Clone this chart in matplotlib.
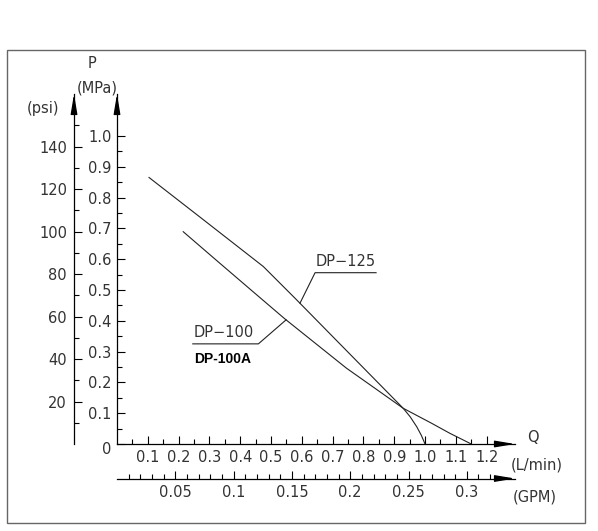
import matplotlib
matplotlib.use("Agg")
import matplotlib.pyplot as plt
from matplotlib.patches import Rectangle
from matplotlib.ticker import FixedLocator, FuncFormatter

plt.rcParams['font.family'] = ['Liberation Sans Narrow', 'DejaVu Sans']

# curve data (Q in L/min, P in MPa)
q_dp125 = [0.104, 0.27, 0.475, 0.583, 0.75, 0.929, 0.952, 0.973, 0.988, 1.0]
p_dp125 = [0.865, 0.736, 0.576, 0.468, 0.298, 0.116, 0.088, 0.056, 0.028, 0.0]
q_dp100 = [0.215, 0.33, 0.442, 0.545, 0.65, 0.745, 0.84, 0.929, 1.02, 1.08, 1.15]
p_dp100 = [0.689, 0.590, 0.494, 0.406, 0.322, 0.246, 0.179, 0.116, 0.068, 0.035, 0.0]

q_major = [0.1, 0.2, 0.3, 0.4, 0.5, 0.6, 0.7, 0.8, 0.9, 1.0, 1.1, 1.2]
q_minor = [0.05, 0.15, 0.25, 0.35, 0.45, 0.55, 0.65, 0.75, 0.85, 0.95, 1.05, 1.15]
mpa_major = [0.0, 0.1, 0.2, 0.3, 0.4, 0.5, 0.6, 0.7, 0.8, 0.9, 1.0]
mpa_minor = [0.05, 0.15, 0.25, 0.35, 0.45, 0.55, 0.65, 0.75, 0.85, 0.95]
psi_major = [20, 40, 60, 80, 100, 120, 140]
psi_minor = [10, 30, 50, 70, 90, 110, 130, 150]
gpm_major = [0.05, 0.1, 0.15, 0.2, 0.25, 0.3]
gpm_minor = [0.01, 0.02, 0.03, 0.04, 0.06, 0.07, 0.08, 0.09, 0.11, 0.12, 0.13, 0.14,
             0.16, 0.17, 0.18, 0.19, 0.21, 0.22, 0.23, 0.24, 0.26, 0.27, 0.28, 0.29,
             0.31, 0.32]

MPA_PER_PSI = 0.00689476
LMIN_PER_GPM = 3.78541

txt = '#333333'
W, H = 598, 531
fig = plt.figure(figsize=(W / 100, H / 100), dpi=100)
fig.patch.set_facecolor('white')

# outer frame
fig.add_artist(Rectangle((7 / W, 1 - 523 / H), 578 / W, 473 / H, transform=fig.transFigure,
                         fill=False, edgecolor='#666666', lw=1.0))

ax = fig.add_axes([117 / W, 1 - 444 / H, 398 / W, 350 / H])
ax.set_xlim(0, 1.292)
ax.set_ylim(0, 1.136)
ax.patch.set_alpha(0)
for s in ['top', 'right']:
    ax.spines[s].set_visible(False)
for s in ['left', 'bottom']:
    ax.spines[s].set_linewidth(0.9)

ax.plot(q_dp125, p_dp125, color='#222222', lw=0.8)
ax.plot(q_dp100, p_dp100, color='#222222', lw=0.8)

# main axes ticks
ax.xaxis.set_major_locator(FixedLocator(q_major))
ax.xaxis.set_minor_locator(FixedLocator(q_minor))
ax.yaxis.set_major_locator(FixedLocator(mpa_major))
ax.yaxis.set_minor_locator(FixedLocator(mpa_minor))
ax.xaxis.set_major_formatter(FuncFormatter(lambda v, p: '%.1f' % v))
ax.yaxis.set_major_formatter(FuncFormatter(lambda v, p: '' if v == 0 else '%.1f' % v))
ax.tick_params(axis='both', which='major', direction='in', length=6, width=0.8,
               labelsize=10.5, labelcolor=txt, pad=4)
ax.tick_params(axis='both', which='minor', direction='in', length=3.3, width=0.8)
ax.annotate('0', xy=(0, 0), xytext=(-6, -6), textcoords='offset pixels',
            ha='right', va='center', fontsize=10.5, color=txt)

# psi axis
sy = ax.secondary_yaxis(-0.108, functions=(lambda p: p / MPA_PER_PSI, lambda s: s * MPA_PER_PSI))
sy.spines['left'].set_linewidth(0.9)
sy.yaxis.set_major_locator(FixedLocator(psi_major))
sy.yaxis.set_minor_locator(FixedLocator(psi_minor))
sy.yaxis.set_major_formatter(FuncFormatter(lambda v, p: '%d' % v))
sy.tick_params(which='major', direction='in', length=6, width=0.8, labelsize=10.5,
               labelcolor=txt, pad=5)
sy.tick_params(which='minor', direction='in', length=3.3, width=0.8)

# GPM axis
sx = ax.secondary_xaxis(-0.0986, functions=(lambda q: q / LMIN_PER_GPM, lambda g: g * LMIN_PER_GPM))
sx.spines['bottom'].set_linewidth(0.9)
sx.xaxis.set_major_locator(FixedLocator(gpm_major))
sx.xaxis.set_minor_locator(FixedLocator(gpm_minor))
sx.xaxis.set_major_formatter(FuncFormatter(lambda v, p: '%g' % v))
sx.tick_params(which='major', direction='in', length=6, width=0.8, labelsize=10.5,
               labelcolor=txt, pad=5)
sx.tick_params(which='minor', direction='in', length=3.3, width=0.8)

# arrow heads
arr = dict(arrowstyle='-|>,head_length=1.2,head_width=0.2', color='black', lw=0.9,
           shrinkA=0, shrinkB=0)
for (x, y), off in [((0, 1), (0, -18)), ((-0.108, 1), (0, -18)),
                    ((1, 0), (-16, 0)), ((1, -0.0986), (-16, 0))]:
    ax.annotate('', xy=(x, y), xycoords='axes fraction', xytext=off,
                textcoords='offset pixels', arrowprops=arr, annotation_clip=False)

# axis titles
def ftext(x, y, s, **kw):
    fig.text(x / W, 1 - y / H, s, ha='center', va='center', fontsize=10.5, color=txt, **kw)

ftext(92, 63, 'P')
ftext(97, 88, '(MPa)')
ftext(43, 108, '(psi)')
ftext(533, 438, 'Q')
ftext(537, 465, '(L/min)')
ftext(535, 497, '(GPM)')

# leaders and labels
ax.plot([0.594, 0.643, 0.841], [0.457, 0.556, 0.556], color='#222222', lw=0.8)
ax.text(0.645, 0.568, 'DP\u2212125', fontsize=10.5, color=txt, ha='left', va='bottom')
ax.plot([0.549, 0.459, 0.246], [0.403, 0.325, 0.325], color='#222222', lw=0.8)
ax.text(0.250, 0.337, 'DP\u2212100', fontsize=10.5, color=txt, ha='left', va='bottom')
ax.text(0.250, 0.276, 'DP-100A', fontsize=10, color='black', ha='left', va='center',
        fontweight='bold', family=['Liberation Sans', 'DejaVu Sans'])

fig.savefig('out.png', dpi=100)
